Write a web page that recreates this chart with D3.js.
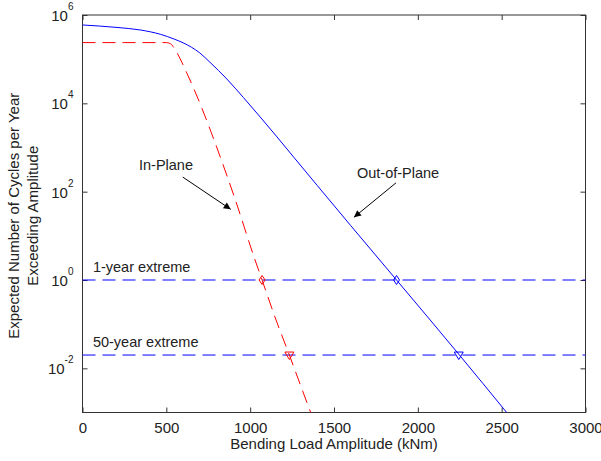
<!DOCTYPE html>
<html>
<head>
<meta charset="utf-8">
<script src="https://cdn.jsdelivr.net/npm/d3@7"></script>
<style>
  body { margin: 0; background: #fff; }
  text { font-family: Arial, "Liberation Sans", sans-serif; fill: #222; }
</style>
</head>
<body>
<svg id="chart" width="601" height="461"></svg>
<script>
// Load amplitude (kNm) vs expected exceedances per year (log10)
const outLoad = [0, 200, 345, 464, 550, 600, 650, 700, 760, 861, 960, 1060, 1160, 1260, 1400, 1600, 1873, 2244, 2530];
const outLog = [5.774, 5.72, 5.661, 5.564, 5.45, 5.37, 5.27, 5.14, 4.93, 4.55, 4.13, 3.69, 3.24, 2.78, 2.14, 1.23, 0.0, -1.68, -3.0];

const inLoad = [0, 250, 500, 525, 553, 623, 712, 762, 802, 911, 1024, 1071, 1150, 1234, 1300, 1361];
const inLog = [5.375, 5.375, 5.375, 5.35, 5.21, 4.68, 3.89, 3.40, 2.99, 1.82, 0.51, 0.0, -0.86, -1.70, -2.38, -3.0];

// return levels: 1-year and 50-year extremes
const levelNames = ['1-year extreme', '50-year extreme'];
const levelValues = [1, 0.02];
const inCross = [1071, 1234];
const outCross = [1873, 2244];

const xTicks = [0, 500, 1000, 1500, 2000, 2500, 3000];
const yTickExp = [-2, 0, 2, 4, 6];

const svg = d3.select('#chart');
const padL = 82.5, padT = 15, padR = 585.5, padB = 412.5;

const x = d3.scaleLinear().domain([0, 3000]).range([padL, padR]);
const y = d3.scaleLog().domain([1e-3, 1e6]).range([padB, padT]);

const defs = svg.append('defs');
defs.append('clipPath').attr('id', 'plotClip')
  .append('rect').attr('x', padL).attr('y', padT).attr('width', padR - padL).attr('height', padB - padT);

defs.append('marker')
  .attr('id', 'arrowHead').attr('viewBox', '0 0 10 10')
  .attr('refX', 10).attr('refY', 5)
  .attr('markerWidth', 9).attr('markerHeight', 7)
  .attr('markerUnits', 'userSpaceOnUse')
  .attr('orient', 'auto')
  .append('path').attr('d', 'M0,0 L10,5 L0,10 Z').attr('fill', '#000');

// axes box
svg.append('rect')
  .attr('x', padL).attr('y', padT).attr('width', padR - padL).attr('height', padB - padT)
  .attr('fill', 'none').attr('stroke', '#333').attr('stroke-width', 1);

// x axis (bottom + top ticks)
const xAxis = svg.append('g').attr('transform', `translate(0,${padB})`)
  .call(d3.axisBottom(x).tickValues(xTicks).tickSizeInner(-5).tickSizeOuter(0).tickPadding(10).tickFormat(d3.format('d')));
xAxis.select('.domain').remove();
xAxis.selectAll('line').attr('stroke', '#333');
xAxis.selectAll('text').style('font-size', '15px');

svg.append('g').attr('transform', `translate(0,${padT})`)
  .call(d3.axisTop(x).tickValues(xTicks).tickSizeInner(-5).tickSizeOuter(0).tickFormat(''))
  .call(g => g.select('.domain').remove())
  .selectAll('line').attr('stroke', '#333');

// y axis (left + right ticks)
const yVals = yTickExp.map(e => Math.pow(10, e));
const yAxis = svg.append('g').attr('transform', `translate(${padL},0)`)
  .call(d3.axisLeft(y).tickValues(yVals).tickSizeInner(-5).tickSizeOuter(0).tickFormat(''));
yAxis.select('.domain').remove();
yAxis.selectAll('line').attr('stroke', '#333');

svg.append('g').attr('transform', `translate(${padR},0)`)
  .call(d3.axisRight(y).tickValues(yVals).tickSizeInner(-5).tickSizeOuter(0).tickFormat(''))
  .call(g => g.select('.domain').remove())
  .selectAll('line').attr('stroke', '#333');

const yLab = svg.append('g').selectAll('text')
  .data(yTickExp).enter().append('text')
  .attr('x', padL - 9)
  .attr('y', d => y(Math.pow(10, d)) + 6)
  .attr('text-anchor', 'end');
yLab.append('tspan').style('font-size', '15px').text('10');
yLab.append('tspan').style('font-size', '10px').attr('dy', -11).text(d => String(d));

// axis titles
svg.append('text')
  .attr('x', (padL + padR) / 2).attr('y', 449)
  .attr('text-anchor', 'middle').style('font-size', '15px')
  .text('Bending Load Amplitude (kNm)');

const yTitle = svg.append('text')
  .attr('transform', `translate(19,${(padT + padB) / 2 + 2}) rotate(-90)`)
  .attr('text-anchor', 'middle').style('font-size', '15px');
yTitle.append('tspan').attr('x', 0).attr('dy', 0).text('Expected Number of Cycles per Year');
yTitle.append('tspan').attr('x', 0).attr('dy', 19).text('Exceeding Amplitude');

const plot = svg.append('g').attr('clip-path', 'url(#plotClip)');

// return level lines
plot.selectAll('.level')
  .data(levelValues).enter().append('line')
  .attr('x1', x(0)).attr('x2', x(3000))
  .attr('y1', d => y(d)).attr('y2', d => y(d))
  .attr('stroke', '#0000ff').attr('stroke-width', 1)
  .attr('stroke-dasharray', '13,7');

svg.selectAll('.levelName')
  .data(levelNames).enter().append('text')
  .attr('x', x(62))
  .attr('y', (d, i) => y(levelValues[i]) - 8)
  .style('font-size', '14.5px')
  .text(d => d);

const line = d3.line()
  .x(d => x(d[0]))
  .y(d => y(Math.pow(10, d[1])))
  .curve(d3.curveMonotoneX);

plot.append('path')
  .datum(outLoad.map((v, i) => [v, outLog[i]]))
  .attr('d', line)
  .attr('fill', 'none').attr('stroke', '#0000ff').attr('stroke-width', 1);

plot.append('path')
  .datum(inLoad.map((v, i) => [v, inLog[i]]))
  .attr('d', line)
  .attr('fill', 'none').attr('stroke', '#ff0000').attr('stroke-width', 1)
  .attr('stroke-dasharray', '13,7');

// crossing markers: diamond at 1-year, down triangle at 50-year
function drawMarkers(loads, color) {
  svg.append('path')
    .attr('transform', `translate(${x(loads[0])},${y(levelValues[0])})`)
    .attr('d', 'M0,-4.5 L3,0 L0,4.5 L-3,0 Z')
    .attr('fill', 'none').attr('stroke', color);
  svg.append('path')
    .attr('transform', `translate(${x(loads[1])},${y(levelValues[1])})`)
    .attr('d', 'M-4.5,-3 L4.5,-3 L0,4.5 Z')
    .attr('fill', 'none').attr('stroke', color);
}
drawMarkers(inCross, '#ff0000');
drawMarkers(outCross, '#0000ff');

// annotations with arrows (data coordinates)
const notes = [
  { label: 'In-Plane', tx: 498, ty: 2.49, from: [598, 2.33], to: [884, 1.60] },
  { label: 'Out-of-Plane', tx: 1882, ty: 2.31, from: [1870, 2.20], to: [1619, 1.42] }
];
notes.forEach(n => {
  svg.append('text')
    .attr('x', x(n.tx)).attr('y', y(Math.pow(10, n.ty)))
    .attr('text-anchor', 'middle').style('font-size', '14.5px')
    .text(n.label);
  svg.append('line')
    .attr('x1', x(n.from[0])).attr('y1', y(Math.pow(10, n.from[1])))
    .attr('x2', x(n.to[0])).attr('y2', y(Math.pow(10, n.to[1])))
    .attr('stroke', '#000').attr('stroke-width', 1)
    .attr('marker-end', 'url(#arrowHead)');
});
</script>
</body>
</html>
